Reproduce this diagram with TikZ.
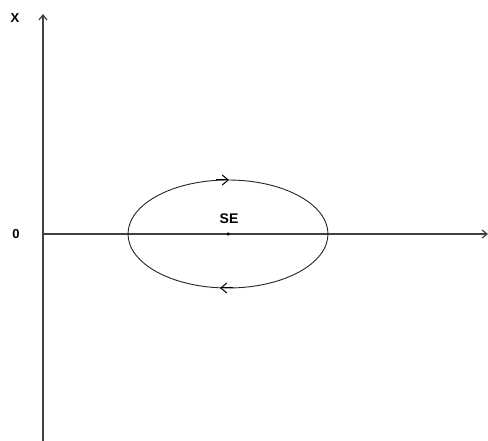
\documentclass[tikz,border=0pt]{standalone}
\usepackage{fontspec}
\setmainfont{Liberation Sans}
\usetikzlibrary{arrows.meta}
\begin{document}
\begin{tikzpicture}[x=1pt,y=-1pt,
  axis/.style={draw=black!75,line width=1.2pt,-{Straight Barb[length=5pt,width=8pt]}},
  lbl/.style={font=\fontsize{13}{15}\selectfont\bfseries,inner sep=0pt},
  orbit/.style={draw=black!85,line width=0.9pt},
  dir/.style={draw=black,line width=1pt,-{Straight Barb[length=6pt,width=10pt]}}]
\useasboundingbox (0,0) rectangle (488,441);
\coordinate (xbot) at (43,441);
\coordinate (xtop) at (43,14);
\coordinate (hleft) at (43,234);
\coordinate (hright) at (488,234);
\draw[axis] (xbot) -- (xtop);
\draw[axis] (hleft) -- (hright);
\node[lbl] (X) at (15,18) {X};
\node[lbl] (zero) at (16,234) {0};
\node[circle,fill=black,inner sep=0pt,minimum size=3.5pt] (se) at (228,234) {};
\node[lbl,font=\fontsize{14}{16}\selectfont\bfseries] (selbl) at (229,219) {SE};
\draw[orbit] (se) ellipse [x radius=100, y radius=54];
\coordinate (t1) at (216,180);
\coordinate (t2) at (229,180);
\coordinate (b1) at (233,288);
\coordinate (b2) at (220,288);
\draw[dir] (t1) -- (t2);
\draw[dir] (b1) -- (b2);
\end{tikzpicture}
\end{document}
